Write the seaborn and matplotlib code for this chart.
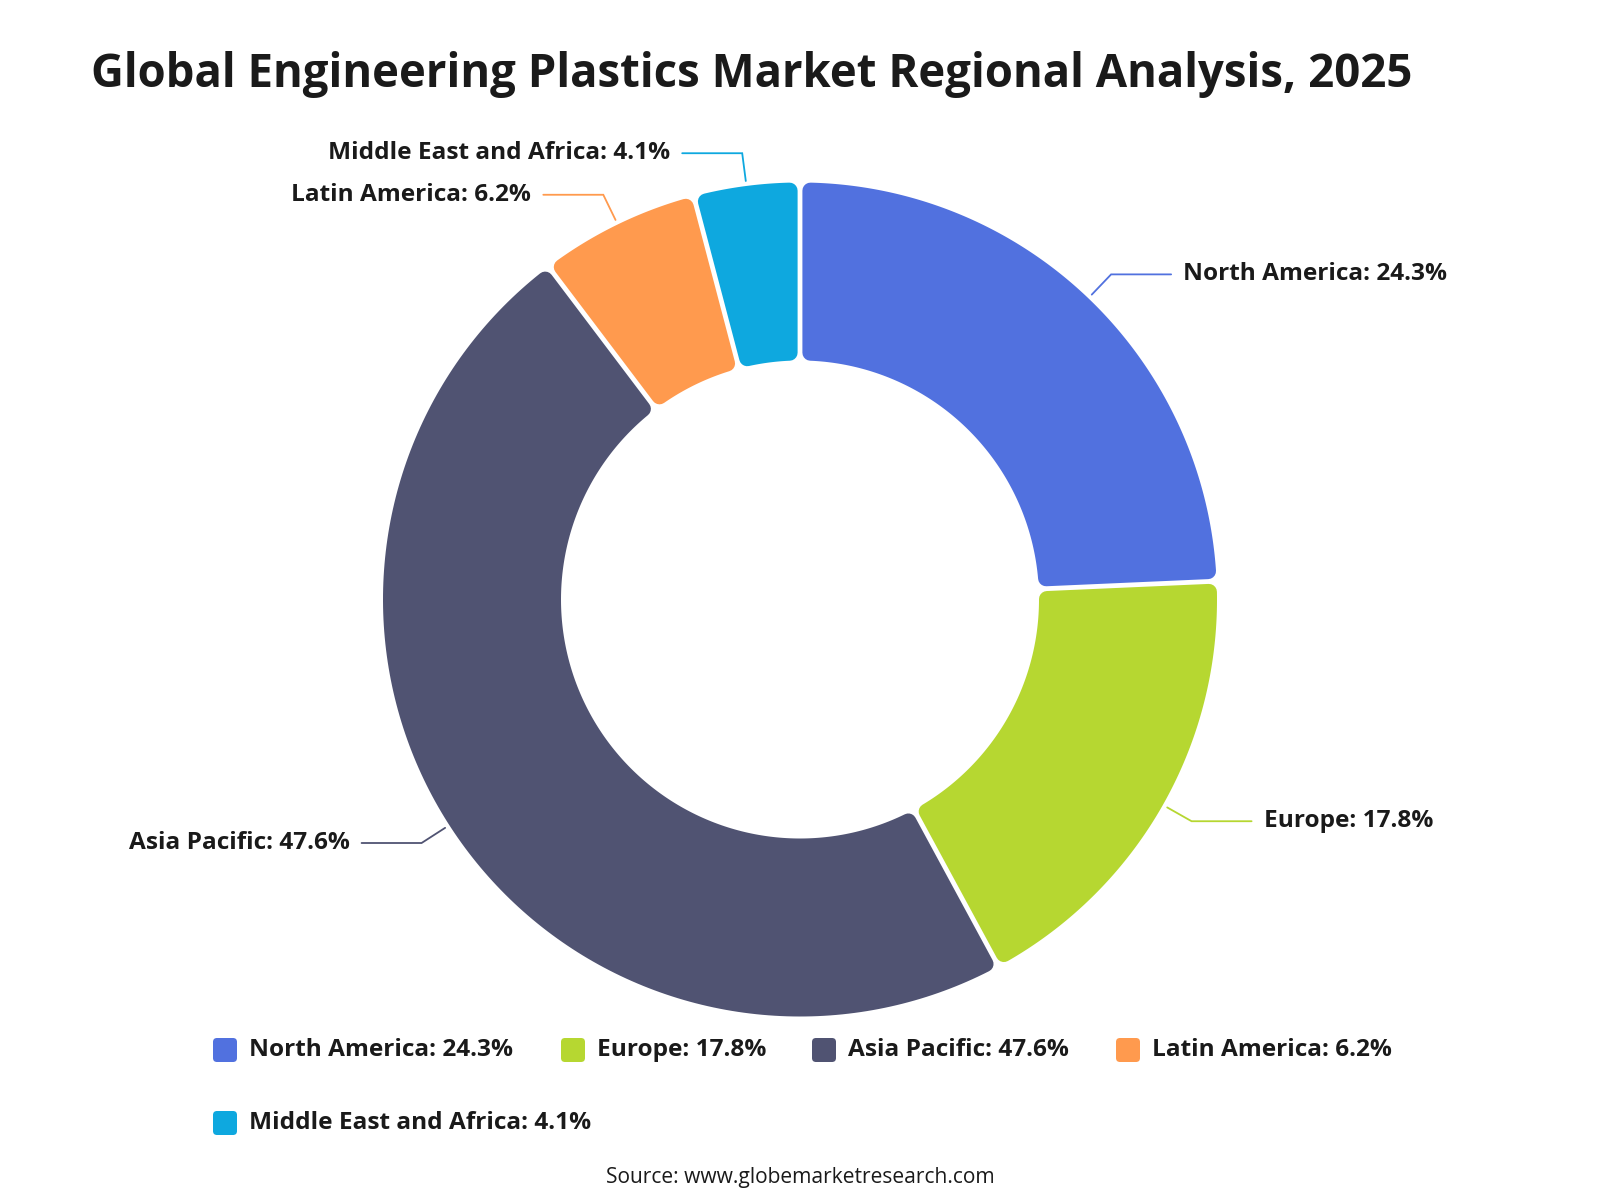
import numpy as np
import matplotlib
matplotlib.use("Agg")
import matplotlib.pyplot as plt
from matplotlib.patches import Polygon, FancyBboxPatch
import seaborn as sns

# ---- data ----
regions = ["North America", "Europe", "Asia Pacific", "Latin America", "Middle East and Africa"]
shares = [24.3, 17.8, 47.6, 6.2, 4.1]
colors = ["#5171DF", "#B6D731", "#505372", "#FF9A4E", "#0EA8DF"]
title = "Global Engineering Plastics Market Regional Analysis, 2025"
source = "Source: www.globemarketresearch.com"

sns.set_theme(style="white")
plt.rcParams['font.family'] = ['Open Sans', 'DejaVu Sans']
palette = sns.color_palette(colors)

fig = plt.figure(figsize=(16, 12), dpi=100)
ax = fig.add_axes([0, 0, 1, 1])
ax.set_xlim(0, 1600)
ax.set_ylim(1200, 0)
ax.axis("off")

cx, cy = 800, 599.5
R, r = 417, 239
gap = 2.4      # half gap between slices (px)
cr = 8         # corner radius (px)
d = gap + cr


def pt(rad, ang):
    return cx + rad * np.cos(ang), cy - rad * np.sin(ang)


total = sum(shares)
start = np.pi / 2
txt_color = "#1a1a1a"
lab_fs = 17.6
for name, val, col in zip(regions, shares, palette):
    span = val / total * 2 * np.pi
    a1, a2 = start, start - span
    Ro, Ri = R - cr, r + cr
    do, di = np.arcsin(d / Ro), np.arcsin(d / Ri)
    outer = np.linspace(a1 - do, a2 + do, 200)
    inner = np.linspace(a2 + di, a1 - di, 200)
    xs = np.concatenate([cx + Ro * np.cos(outer), cx + Ri * np.cos(inner)])
    ys = np.concatenate([cy - Ro * np.sin(outer), cy - Ri * np.sin(inner)])
    poly = Polygon(np.column_stack([xs, ys]), closed=True, facecolor=col,
                   edgecolor=col, linewidth=2 * cr * 0.72, joinstyle="round")
    ax.add_patch(poly)

    # label with leader line
    mid = start - span / 2
    p0 = pt(R + 5, mid)
    p1 = pt(R + 33, mid)
    side = 1 if np.cos(mid) >= 0 else -1
    p2 = (p1[0] + side * 60, p1[1])
    ax.plot([p0[0], p1[0], p2[0]], [p0[1], p1[1], p2[1]], color=col, lw=1.3,
            solid_joinstyle="miter")
    ax.text(p2[0] + side * 12, p2[1], f"{name}: {val}%", ha="left" if side > 0 else "right",
            va="center", fontsize=lab_fs, fontweight="bold", color=txt_color)
    start = a2

# title
ax.text(91, 74, title, ha="left", va="center", fontsize=32.8, fontweight="bold", color=txt_color)

# legend
leg_pos = [(213, 1050), (561, 1050), (812, 1050), (1116, 1050), (213, 1123)]
for (lx, ly), name, val, col in zip(leg_pos, regions, shares, palette):
    box = FancyBboxPatch((lx + 3, ly - 9), 18, 18, boxstyle="round,pad=3,rounding_size=4",
                         facecolor=col, edgecolor="none")
    ax.add_patch(box)
    ax.text(lx + 36, ly, f"{name}: {val}%", ha="left", va="center", fontsize=lab_fs,
            fontweight="bold", color=txt_color)

ax.text(800, 1178, source, ha="center", va="center", fontsize=15.1, fontweight="medium",
        color=txt_color)

fig.savefig("out.png", dpi=100, facecolor="white")
